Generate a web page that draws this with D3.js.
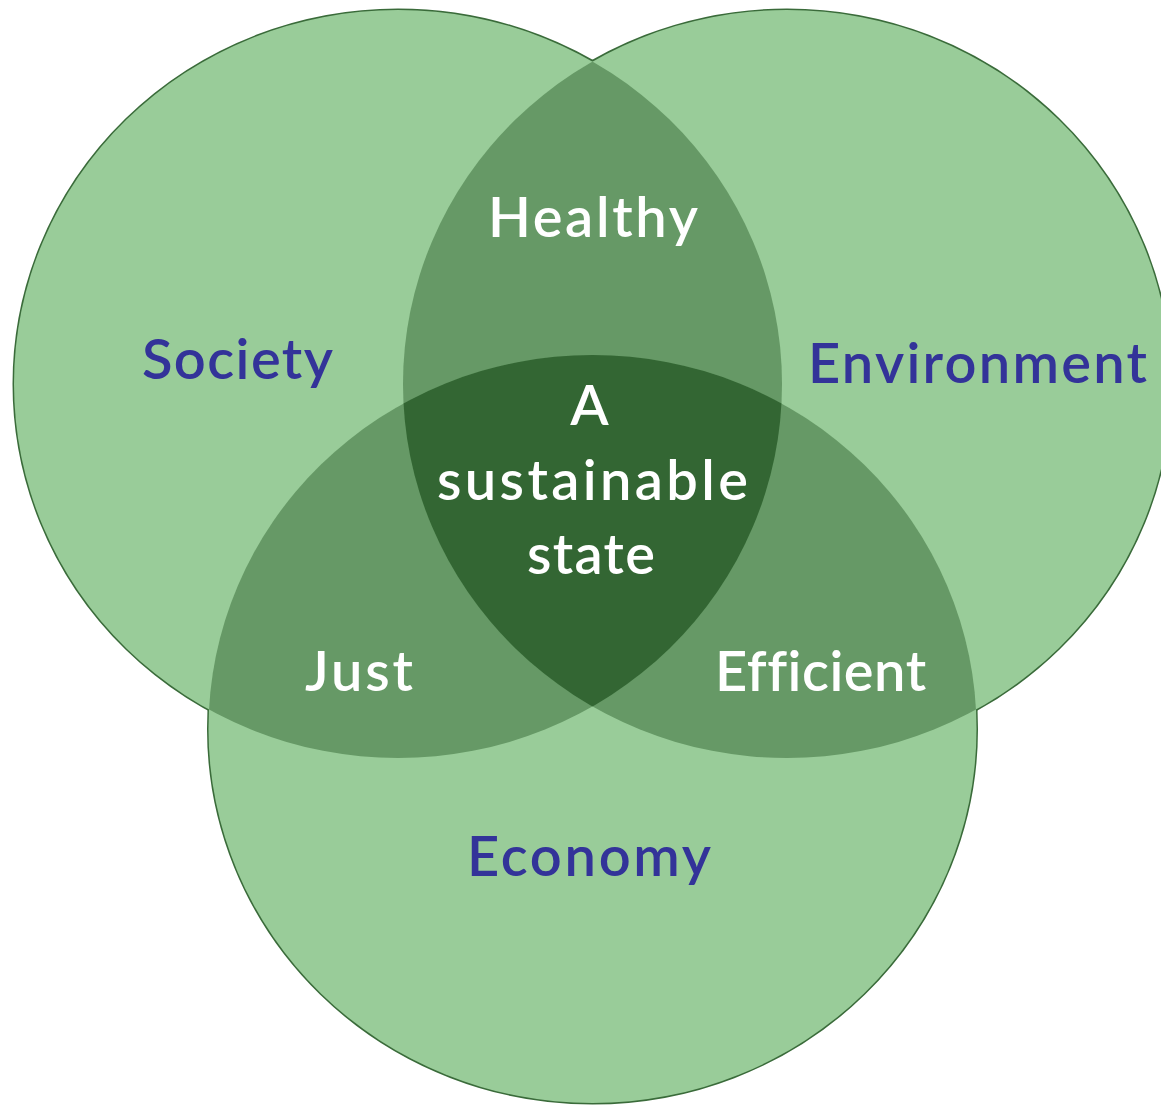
<!DOCTYPE html>
<html>
<head>
<meta charset="utf-8">
<script src="https://cdn.jsdelivr.net/npm/d3@7"></script>
<style>
  html, body { margin: 0; padding: 0; background: #fff; }
  svg { display: block; }
  text {
    font-family: Lato, "Open Sans", sans-serif;
    font-weight: 600;
    font-variant-ligatures: none;
  }
</style>
</head>
<body>
<svg id="venn"></svg>
<script>
// Sets and the labels of their overlaps
const sets = ['Society', 'Environment', 'Economy'];
const pairLabels = [
    { sets: ['Society', 'Environment'], label: 'Healthy' },
    { sets: ['Society', 'Economy'], label: 'Just' },
    { sets: ['Environment', 'Economy'], label: 'Efficient' }
];
const centreLines = ['A', 'sustainable', 'state'];

// Layout (unit coordinates: 1 unit = one radius)
const setCentres = {
    Society: [-0.5065, 0],
    Environment: [0.5065, 0],
    Economy: [0, 0.9225]
};
const labelPos = {
    Society: [-0.9245, -0.013, 191],
    Environment: [1.0026, -0.003, 339],
    Economy: [-0.009, 1.3155, 244],
    Healthy: [0.001, -0.393, 210],
    Just: [-0.608, 0.821, 108],
    Efficient: [0.594, 0.821, 211],
    A: [-0.008, 0.1096, 0],
    sustainable: [0, 0.310, 311],
    state: [-0.004, 0.508, 128]
};

const width = 1161;
const height = 1105;

const colors = {
    single: '#99cc99',
    pair: '#669966',
    triple: '#336633',
    stroke: '#3a6b3a',
    setText: '#333399',
    innerText: '#ffffff'
};

const x = d3.scaleLinear().domain([0, 1]).range([592.5, 976.5]);
const y = d3.scaleLinear().domain([0, 1]).range([384, 758]);
const rx = x(1) - x(0);
const ry = y(1) - y(0);

const svg = d3.select('#venn')
    .attr('width', width)
    .attr('height', height)
    .attr('viewBox', [0, 0, width, height]);

const defs = svg.append('defs');

// One clip path per set
sets.forEach(name => {
    defs.append('clipPath')
        .attr('id', `clip-${name}`)
        .append('ellipse')
        .attr('cx', x(setCentres[name][0]))
        .attr('cy', y(setCentres[name][1]))
        .attr('rx', rx)
        .attr('ry', ry);
});

function ellipse(sel, name) {
    return sel.append('ellipse')
        .attr('cx', x(setCentres[name][0]))
        .attr('cy', y(setCentres[name][1]))
        .attr('rx', rx)
        .attr('ry', ry);
}

// Outline under everything, so only the outer edge shows
const outline = svg.append('g');
sets.forEach(name => {
    ellipse(outline, name)
        .attr('fill', colors.single)
        .attr('stroke', colors.stroke)
        .attr('stroke-width', 3);
});

const fills = svg.append('g');
sets.forEach(name => {
    ellipse(fills, name).attr('fill', colors.single);
});

// Pairwise overlaps
pairLabels.forEach(p => {
    const g = svg.append('g').attr('clip-path', `url(#clip-${p.sets[0]})`);
    ellipse(g, p.sets[1]).attr('fill', colors.pair);
});

// Centre where all three meet
const g1 = svg.append('g').attr('clip-path', `url(#clip-${sets[0]})`);
const g2 = g1.append('g').attr('clip-path', `url(#clip-${sets[1]})`);
ellipse(g2, sets[2]).attr('fill', colors.triple);

// Labels
function label(text, color) {
    const [u, v, len] = labelPos[text];
    const t = svg.append('text')
        .attr('x', x(u))
        .attr('y', y(v))
        .attr('text-anchor', 'middle')
        .attr('font-size', 56)
        .attr('fill', color)
        .text(text);
    if (len) t.attr('textLength', len).attr('lengthAdjust', 'spacing');
}

sets.forEach(s => label(s, colors.setText));
pairLabels.forEach(p => label(p.label, colors.innerText));
centreLines.forEach(l => label(l, colors.innerText));
</script>
</body>
</html>
